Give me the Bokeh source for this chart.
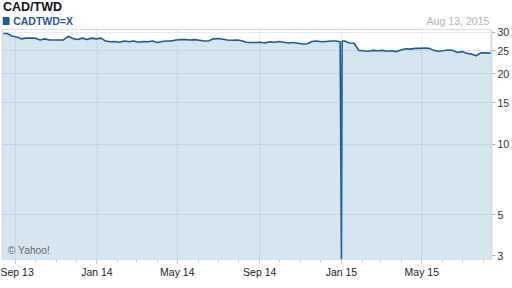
import pandas as pd
from bokeh.plotting import figure
from bokeh.models import Range1d, FixedTicker, Label, BoxAnnotation, ColumnDataSource, Span
from bokeh.embed import file_html
from bokeh.resources import INLINE

# ---- data ----
week_start = "2013-08-13"
weekly_values = [29.6, 29.6, 28.9, 28.6, 28.1, 28.3, 28.3, 28.3, 27.8, 28.1,
                 27.8, 27.8, 27.8, 27.8, 28.8, 28.2, 27.9, 28.3, 27.9, 28.3,
                 28.1, 28.3, 27.5, 27.3, 27.4, 27.2, 27.5, 27.3, 27.5, 27.2,
                 27.4, 27.3, 27.5, 27.1, 27.4, 27.5, 27.5, 27.8, 27.9, 27.9,
                 27.8, 27.9, 27.7, 27.5, 27.6, 28.1, 28.2, 28.0, 27.8, 27.7,
                 27.8, 27.6, 27.2, 27.1, 27.1, 27.2, 27.0, 27.3, 27.2, 27.4,
                 27.2, 27.0, 27.1, 26.9, 26.7, 26.8, 27.4, 27.5, 27.3, 27.4,
                 27.5, 27.5, 27.3, 27.5, 27.0, 26.9, 25.1, 25.0, 24.9, 25.1,
                 25.0, 25.1, 24.9, 25.0, 24.8, 25.2, 25.5, 25.4, 25.6, 25.6,
                 25.7, 25.6, 25.1, 24.9, 25.0, 25.2, 25.1, 24.6, 24.8, 24.4,
                 24.2, 23.8, 24.5, 24.5, 24.4]
extra_dates = ["2014-12-31", "2015-01-01", "2015-01-02", "2015-08-13"]
extra_values = [9.8, 3.25, 27.5, 25.0]

x_tick_dates = ["2013-09-01", "2014-01-01", "2014-05-01", "2014-09-01", "2015-01-01", "2015-05-01"]
x_tick_labels = ["Sep 13", "Jan 14", "May 14", "Sep 14", "Jan 15", "May 15"]
y_tick_values = [3.35, 5, 10, 15, 20, 25, 30]
y_tick_labels = ["3", "5", "10", "15", "20", "25", "30"]
y_grid_values = [5, 10, 15, 20, 25, 30]

title_text = "CAD/TWD"
series_name = "CADTWD=X"
date_text = "Aug 13, 2015"
credit_text = "\u00a9 Yahoo!"

# ---- assemble ----
wk_dates = pd.date_range(week_start, periods=len(weekly_values), freq="7D")
df = pd.DataFrame({"date": list(wk_dates) + [pd.Timestamp(d) for d in extra_dates],
                   "value": weekly_values + extra_values}).sort_values("date").reset_index(drop=True)
y_lo, y_top, y_hi = 3.23, 30.8, 40.93   # y_top = top of the plotting box, y_hi leaves room for header
df["base"] = y_lo
src = ColumnDataSource(df)
x0, x1 = pd.Timestamp("2013-08-13"), pd.Timestamp("2015-08-13")

LINE = "#1d5b98"
FILL = "#d6e6f1"
FONT = "Liberation Sans"
BORDER = "#dcdcdc"

p = figure(width=512, height=288, x_axis_type="datetime", y_axis_type="log",
           y_axis_location="right", output_backend="svg", toolbar_location=None,
           x_range=Range1d(x0, x1), y_range=Range1d(y_lo, y_hi),
           min_border_left=2, min_border_right=21, min_border_top=0, min_border_bottom=29)
p.title.text = ""
p.background_fill_color = "white"
p.border_fill_color = "white"
p.outline_line_color = None

p.varea(x="date", y1="base", y2="value", source=src, fill_color=FILL)
p.line(x="date", y="value", source=src, line_color=LINE, line_width=1.6)

def ms(d):
    return pd.Timestamp(d).value // 10**6

major = [float(ms(d)) for d in x_tick_dates]
minor = [float(ms(d)) for d in pd.date_range("2013-09-01", "2015-08-01", freq="MS")]
p.xaxis.ticker = FixedTicker(ticks=major, minor_ticks=minor)
p.xaxis.major_label_overrides = {k: v for k, v in zip(major, x_tick_labels)}
p.xaxis.major_tick_out = 4
p.xaxis.major_tick_in = 0
p.xaxis.minor_tick_out = 3
p.xaxis.minor_tick_in = 0
p.xaxis.major_tick_line_color = "#aaaaaa"
p.xaxis.minor_tick_line_color = "#cccccc"
p.xaxis.axis_line_color = BORDER
p.xaxis.major_label_standoff = 2
p.xaxis.major_label_text_font = FONT
p.xaxis.major_label_text_font_size = "10.5px"
p.xaxis.major_label_text_color = "#222222"

p.yaxis.ticker = FixedTicker(ticks=y_tick_values, minor_ticks=[])
p.yaxis.major_label_overrides = {float(k): v for k, v in zip(y_tick_values, y_tick_labels)}
p.yaxis.major_tick_out = 4
p.yaxis.major_tick_in = 0
p.yaxis.minor_tick_out = 0
p.yaxis.minor_tick_in = 0
p.yaxis.major_tick_line_color = "#aaaaaa"
p.yaxis.axis_line_color = None
p.yaxis.major_label_standoff = 2
p.yaxis.major_label_text_font = FONT
p.yaxis.major_label_text_font_size = "10.5px"
p.yaxis.major_label_text_color = "#333333"

# grid: horizontal lines over the whole width, vertical lines only inside the plotting box
p.xgrid.visible = False
p.ygrid.ticker = FixedTicker(ticks=y_grid_values)
p.ygrid.level = "overlay"
p.ygrid.grid_line_color = "#5a86aa"
p.ygrid.grid_line_alpha = 0.15
vg = p.segment(x0=[pd.Timestamp(d) for d in x_tick_dates], y0=[y_lo] * len(x_tick_dates),
               x1=[pd.Timestamp(d) for d in x_tick_dates], y1=[y_top] * len(x_tick_dates),
               line_color="#5a86aa", line_alpha=0.15, line_width=1)
vg.level = "overlay"

# box border: top line and side lines
p.add_layout(Span(location=y_top, dimension="width", line_color=BORDER, line_width=1))
sb = p.segment(x0=[x0, x1], y0=[y_lo, y_lo], x1=[x0, x1], y1=[y_top, y_top],
               line_color=BORDER, line_width=2)
sb.level = "overlay"

# header texts (screen units measured from the bottom-left of the plotting area)
H = 259
p.add_layout(Label(x=0.5, y=H - 6, x_units="screen", y_units="screen",
                   text=title_text, text_font=FONT, text_font_size="12.5px",
                   text_font_style="bold", text_color="#111111", text_baseline="middle"))
p.add_layout(BoxAnnotation(left=0, right=7, bottom=H - 24.5, top=H - 16.5,
                           left_units="screen", right_units="screen",
                           bottom_units="screen", top_units="screen",
                           fill_color=LINE, fill_alpha=1.0, line_color=None))
p.add_layout(Label(x=10.7, y=H - 20.5, x_units="screen", y_units="screen",
                   text=series_name, text_font=FONT, text_font_size="10.5px",
                   text_font_style="bold", text_color=LINE, text_baseline="middle"))
p.add_layout(Label(x=487, y=H - 20, x_units="screen", y_units="screen",
                   text=date_text, text_font=FONT, text_font_size="10.6px",
                   text_color="#b4b4b4", text_align="right", text_baseline="middle"))
p.add_layout(Label(x=5.3, y=9, x_units="screen", y_units="screen",
                   text=credit_text, text_font=FONT, text_font_size="10.3px",
                   text_color="#666666", text_baseline="middle"))

open("out.html", "w").write(file_html(p, INLINE))
